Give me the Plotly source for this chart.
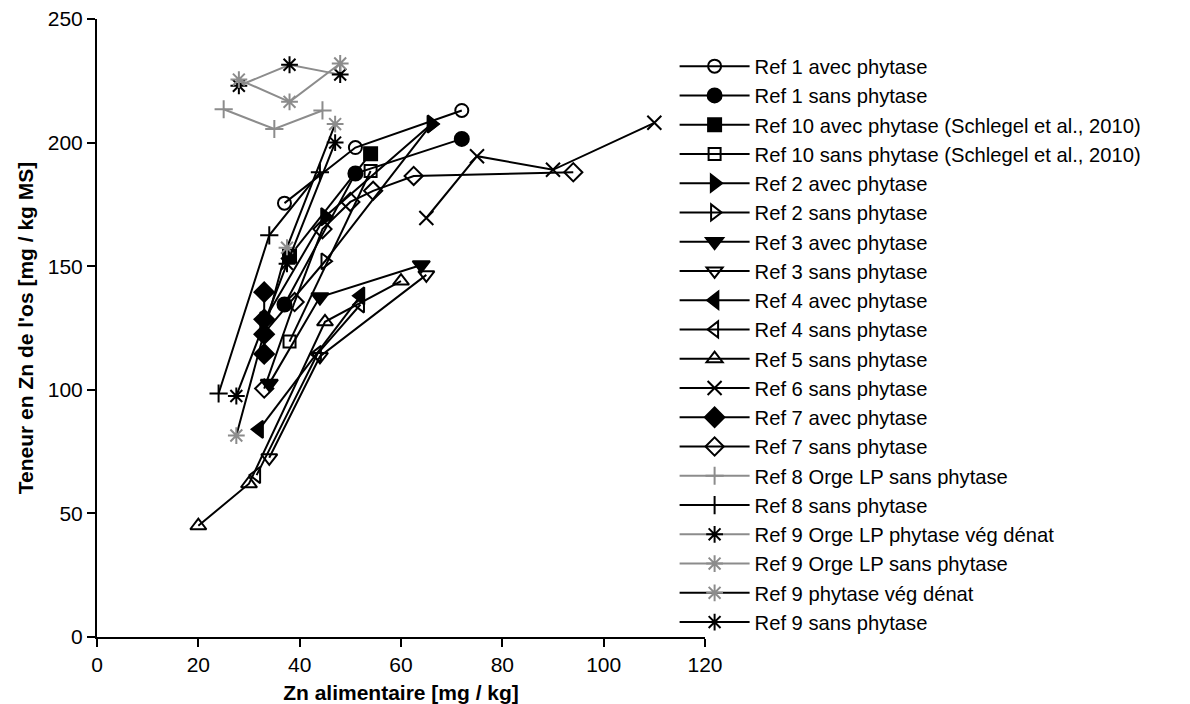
import plotly.graph_objects as go

# ---- data ----
ref1_avec_x = [37, 51, 72]
ref1_avec_y = [175.5, 198, 213]
ref1_sans_x = [37, 51, 72]
ref1_sans_y = [134.5, 187.5, 201.5]
ref10_avec_x = [38, 54]
ref10_avec_y = [154, 195.5]
ref10_sans_x = [38, 54]
ref10_sans_y = [119.5, 188.5]
ref2_avec_x = [33, 45, 66]
ref2_avec_y = [128, 170, 207.5]
ref2_sans_x = [33, 45, 66]
ref2_sans_y = [123, 152, 207.5]
ref3_avec_x = [34, 44, 64]
ref3_avec_y = [102.5, 137.5, 150.5]
ref3_sans_x = [34, 44, 65]
ref3_sans_y = [72.5, 113.5, 146.5]
ref4_avec_x = [32, 52]
ref4_avec_y = [84, 138]
ref4_sans_x = [31.5, 43.5, 52]
ref4_sans_y = [65.5, 114.5, 134.5]
ref5_sans_x = [20, 30, 45, 60]
ref5_sans_y = [45, 62, 127.5, 144]
ref6_sans_x = [65, 75, 90, 110]
ref6_sans_y = [169.5, 194.5, 189, 208]
ref7_avec_x = [33, 33, 33, 33]
ref7_avec_y = [114.5, 122.5, 128.5, 139.5]
ref7_sans_x = [33, 39, 44.5, 50, 54.5, 62.5, 94]
ref7_sans_y = [100.5, 135.5, 165, 176, 180.5, 186.5, 188]
ref8_orge_x = [25, 35, 44.5]
ref8_orge_y = [213.5, 205.5, 213]
ref8_sans_x = [24, 34, 44]
ref8_sans_y = [98.5, 162.5, 188]
ref9_orge_phyt_x = [28, 38, 48]
ref9_orge_phyt_y = [223, 231.5, 227.5]
ref9_orge_sans_x = [28, 38, 48]
ref9_orge_sans_y = [225.5, 216.5, 232]
ref9_phyt_x = [27.5, 37.5, 47]
ref9_phyt_y = [81.5, 157.5, 207.5]
ref9_sans_x = [27.5, 37.5, 47]
ref9_sans_y = [97.5, 151, 200]

x_ticks = [0, 20, 40, 60, 80, 100, 120]
y_ticks = [0, 50, 100, 150, 200, 250]

BLACK = "#000000"
GRAY = "#8c8c8c"

# name, x, y, symbol, marker colour, line colour, size
series = [
    ("Ref 1 avec phytase", ref1_avec_x, ref1_avec_y, "circle-open", BLACK, BLACK, 13),
    ("Ref 1 sans phytase", ref1_sans_x, ref1_sans_y, "circle", BLACK, BLACK, 14),
    ("Ref 10 avec phytase (Schlegel et al., 2010)", ref10_avec_x, ref10_avec_y, "square", BLACK, BLACK, 13),
    ("Ref 10 sans phytase (Schlegel et al., 2010)", ref10_sans_x, ref10_sans_y, "square-open", BLACK, BLACK, 12),
    ("Ref 2 avec phytase", ref2_avec_x, ref2_avec_y, "triangle-right", BLACK, BLACK, 15),
    ("Ref 2 sans phytase", ref2_sans_x, ref2_sans_y, "triangle-right-open", BLACK, BLACK, 14),
    ("Ref 3 avec phytase", ref3_avec_x, ref3_avec_y, "triangle-down", BLACK, BLACK, 15),
    ("Ref 3 sans phytase", ref3_sans_x, ref3_sans_y, "triangle-down-open", BLACK, BLACK, 14),
    ("Ref 4 avec phytase", ref4_avec_x, ref4_avec_y, "triangle-left", BLACK, BLACK, 15),
    ("Ref 4 sans phytase", ref4_sans_x, ref4_sans_y, "triangle-left-open", BLACK, BLACK, 14),
    ("Ref 5 sans phytase", ref5_sans_x, ref5_sans_y, "triangle-up-open", BLACK, BLACK, 14),
    ("Ref 6 sans phytase", ref6_sans_x, ref6_sans_y, "x-thin-open", BLACK, BLACK, 14),
    ("Ref 7 avec phytase", ref7_avec_x, ref7_avec_y, "diamond", BLACK, BLACK, 15),
    ("Ref 7 sans phytase", ref7_sans_x, ref7_sans_y, "diamond-open", BLACK, BLACK, 14),
    ("Ref 8 Orge LP sans phytase", ref8_orge_x, ref8_orge_y, "cross-thin-open", GRAY, GRAY, 13),
    ("Ref 8 sans phytase", ref8_sans_x, ref8_sans_y, "cross-thin-open", BLACK, BLACK, 13),
    ("Ref 9 Orge LP phytase vég dénat", ref9_orge_phyt_x, ref9_orge_phyt_y, "asterisk-open", BLACK, GRAY, 14),
    ("Ref 9 Orge LP sans phytase", ref9_orge_sans_x, ref9_orge_sans_y, "asterisk-open", GRAY, GRAY, 14),
    ("Ref 9 phytase vég dénat", ref9_phyt_x, ref9_phyt_y, "asterisk-open", GRAY, BLACK, 14),
    ("Ref 9 sans phytase", ref9_sans_x, ref9_sans_y, "asterisk-open", BLACK, BLACK, 14),
]

fig = go.Figure()
for name, xs, ys, sym, mcol, lcol, size in series:
    fig.add_trace(go.Scatter(
        x=xs, y=ys, name=name, mode="lines+markers",
        line=dict(color=lcol, width=2),
        marker=dict(symbol=sym, color=mcol, size=size,
                    line=dict(color=mcol, width=2)),
    ))

FONT = "Liberation Sans, Arial, sans-serif"
fig.update_layout(
    width=1182, height=696,
    margin=dict(l=89, r=485, t=11, b=67),
    paper_bgcolor="white", plot_bgcolor="white",
    font=dict(family=FONT, size=20, color="black"),
    showlegend=True,
    legend=dict(
        x=0.95, xanchor="left", y=0.9555, yanchor="top",
        font=dict(family=FONT, size=20.2, color="black"),
        bgcolor="rgba(0,0,0,0)", itemwidth=70,
        tracegroupgap=0, traceorder="normal",
    ),
    xaxis=dict(
        range=[0, 120], tickvals=x_ticks, ticktext=[str(v) for v in x_ticks],
        showgrid=False, zeroline=False, showline=True, linecolor="black", linewidth=2,
        ticks="outside", ticklen=8, tickwidth=2, tickcolor="black",
        tickfont=dict(family=FONT, size=21), automargin=False,
        ticklabeloverflow="allow",
        title=dict(text="<b>Zn alimentaire [mg / kg]</b>", font=dict(family=FONT, size=21), standoff=10),
    ),
    yaxis=dict(
        range=[0, 250], tickvals=y_ticks, ticktext=[str(v) for v in y_ticks],
        showgrid=False, zeroline=False, showline=True, linecolor="black", linewidth=2,
        ticks="outside", ticklen=8, tickwidth=2, tickcolor="black",
        tickfont=dict(family=FONT, size=21), automargin=False,
        ticklabeloverflow="allow",
        title=dict(text="<b>Teneur en Zn de l'os [mg / kg MS]</b>", font=dict(family=FONT, size=21), standoff=8),
    ),
)

fig.write_html("out.html")
